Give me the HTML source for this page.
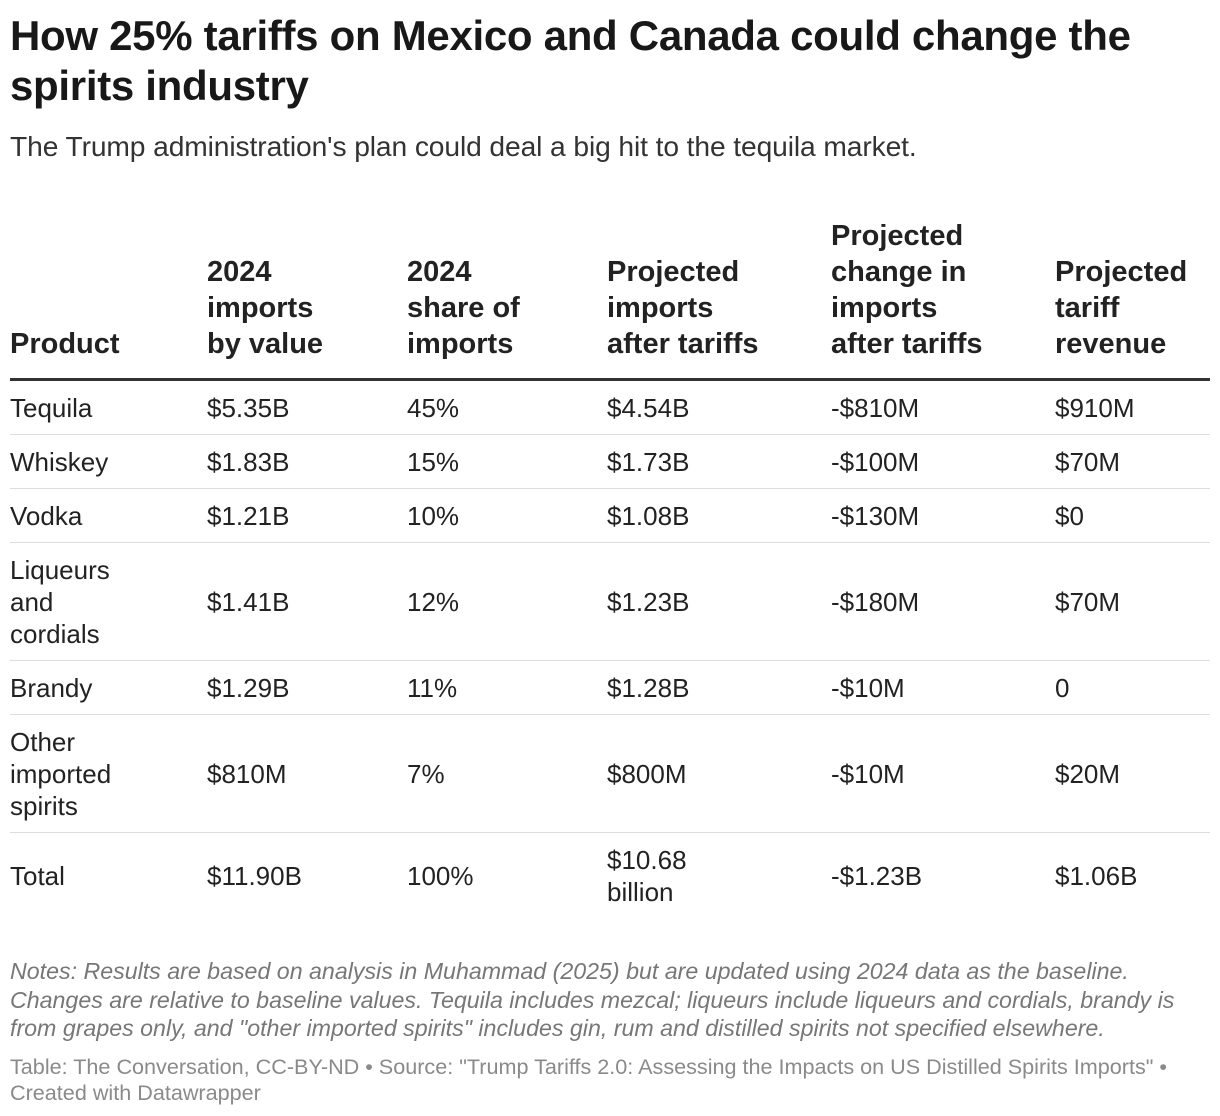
<!DOCTYPE html>
<html><head><meta charset="utf-8">
<style>
body{margin:0;width:1220px;height:1116px;background:#fff;font-family:"Liberation Sans",Arial,sans-serif;color:#1d1d1d;position:relative;overflow:hidden}
h1{position:absolute;left:10px;top:11px;margin:0;font-size:42px;line-height:50px;font-weight:bold;width:1180px;letter-spacing:-0.3px;color:#181818}
.sub{position:absolute;left:10px;top:130px;font-size:28.2px;color:#333;letter-spacing:-0.1px}
table{position:absolute;left:10px;top:218px;border-collapse:collapse;width:1200px;table-layout:fixed}
th{font-size:29px;font-weight:bold;text-align:left;vertical-align:bottom;line-height:36px;padding:0 0 16px 0;border-bottom:3px solid #333;height:111px;color:#222;white-space:nowrap}
td{font-size:26px;line-height:32px;vertical-align:middle;padding:0;border-bottom:1px solid #ddd;color:#222;white-space:nowrap}
tr.r1 td{height:53px}
tr.r3 td{height:117px}
tr.tot td{height:86px;border-bottom:none}
.notes{position:absolute;left:10px;top:957px;width:1210px;font-size:23.2px;line-height:28.5px;font-style:italic;color:#777;white-space:nowrap}
.foot{position:absolute;left:10px;top:1054px;width:1210px;font-size:21.6px;line-height:26px;color:#8a8a8a;white-space:nowrap}
</style></head><body>
<h1>How 25% tariffs on Mexico and Canada could change the spirits industry</h1>
<div class="sub">The Trump administration's plan could deal a big hit to the tequila market.</div>
<table>
<colgroup><col style="width:197px"><col style="width:200px"><col style="width:200px"><col style="width:224px"><col style="width:224px"><col style="width:155px"></colgroup>
<thead><tr>
<th>Product</th>
<th>2024<br>imports<br>by value</th>
<th>2024<br>share of<br>imports</th>
<th>Projected<br>imports<br>after tariffs</th>
<th>Projected<br>change in<br>imports<br>after tariffs</th>
<th>Projected<br>tariff<br>revenue</th>
</tr></thead>
<tbody>
<tr class="r1"><td>Tequila</td><td>$5.35B</td><td>45%</td><td>$4.54B</td><td>-$810M</td><td>$910M</td></tr>
<tr class="r1"><td>Whiskey</td><td>$1.83B</td><td>15%</td><td>$1.73B</td><td>-$100M</td><td>$70M</td></tr>
<tr class="r1"><td>Vodka</td><td>$1.21B</td><td>10%</td><td>$1.08B</td><td>-$130M</td><td>$0</td></tr>
<tr class="r3"><td>Liqueurs<br>and<br>cordials</td><td>$1.41B</td><td>12%</td><td>$1.23B</td><td>-$180M</td><td>$70M</td></tr>
<tr class="r1"><td>Brandy</td><td>$1.29B</td><td>11%</td><td>$1.28B</td><td>-$10M</td><td>0</td></tr>
<tr class="r3"><td>Other<br>imported<br>spirits</td><td>$810M</td><td>7%</td><td>$800M</td><td>-$10M</td><td>$20M</td></tr>
<tr class="tot"><td>Total</td><td>$11.90B</td><td>100%</td><td>$10.68<br>billion</td><td>-$1.23B</td><td>$1.06B</td></tr>
</tbody></table>
<div class="notes">Notes: Results are based on analysis in Muhammad (2025) but are updated using 2024 data as the baseline.<br>Changes are relative to baseline values. Tequila includes mezcal; liqueurs include liqueurs and cordials, brandy is<br>from grapes only, and "other imported spirits" includes gin, rum and distilled spirits not specified elsewhere.</div>
<div class="foot">Table: The Conversation, CC-BY-ND • Source: "Trump Tariffs 2.0: Assessing the Impacts on US Distilled Spirits Imports" •<br>Created with Datawrapper</div>
</body></html>
